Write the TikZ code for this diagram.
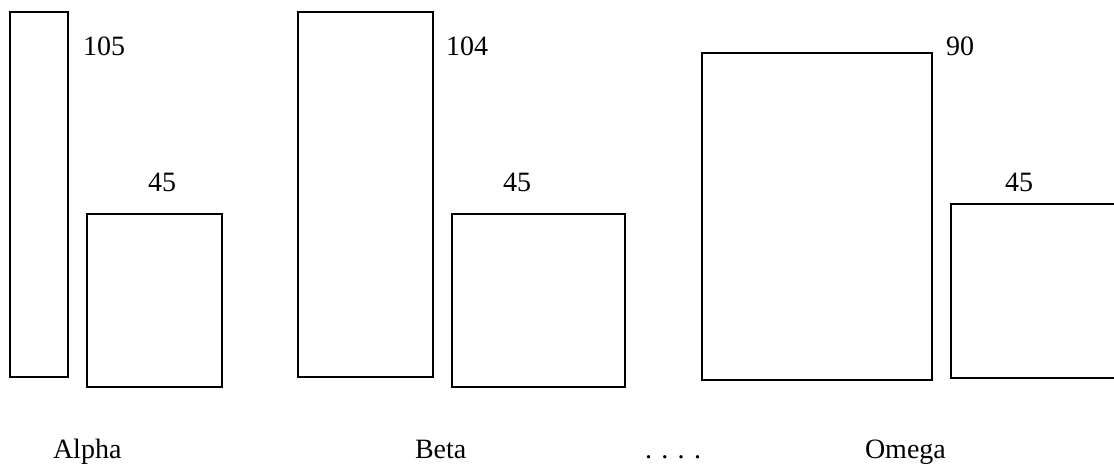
\documentclass[tikz,border=0pt]{standalone}
\usepackage{fontspec}
\setmainfont{Liberation Serif}
\begin{document}
\begin{tikzpicture}[x=1pt,y=-1pt,
  bar/.style={draw=black,line width=1.8pt},
  lbl/.style={anchor=base west,inner sep=0pt,outer sep=0pt,
    font=\fontsize{28}{34}\selectfont}]
\useasboundingbox (0,0) rectangle (1114,468);
% Alpha
\draw[bar] (10,11.7) rectangle (68.3,376.7);
\draw[bar] (87.3,213.7) rectangle (221.7,386.7);
\node[lbl] (a105) at (83,55.5) {105};
\node[lbl] (a45) at (148,191) {45};
\node[lbl] (alpha) at (53,458) {Alpha};
% Beta
\draw[bar] (298.3,11.7) rectangle (433.3,376.7);
\draw[bar] (452.3,214.3) rectangle (625,386.7);
\node[lbl] (b104) at (446,55.5) {104};
\node[lbl] (b45) at (503,191) {45};
\node[lbl] (beta) at (415,458) {Beta};
% gap
\node[lbl] (dots) at (645,458) {. . . .};
% Omega
\draw[bar] (701.7,53.3) rectangle (932.3,380);
\draw[bar] (1120,204.3) -- (951,204.3) -- (951,377.7) -- (1120,377.7);
\node[lbl] (o90) at (946,56) {90};
\node[lbl] (o45) at (1005,192) {45};
\node[lbl] (omega) at (865,458) {Omega};
\end{tikzpicture}
\end{document}
